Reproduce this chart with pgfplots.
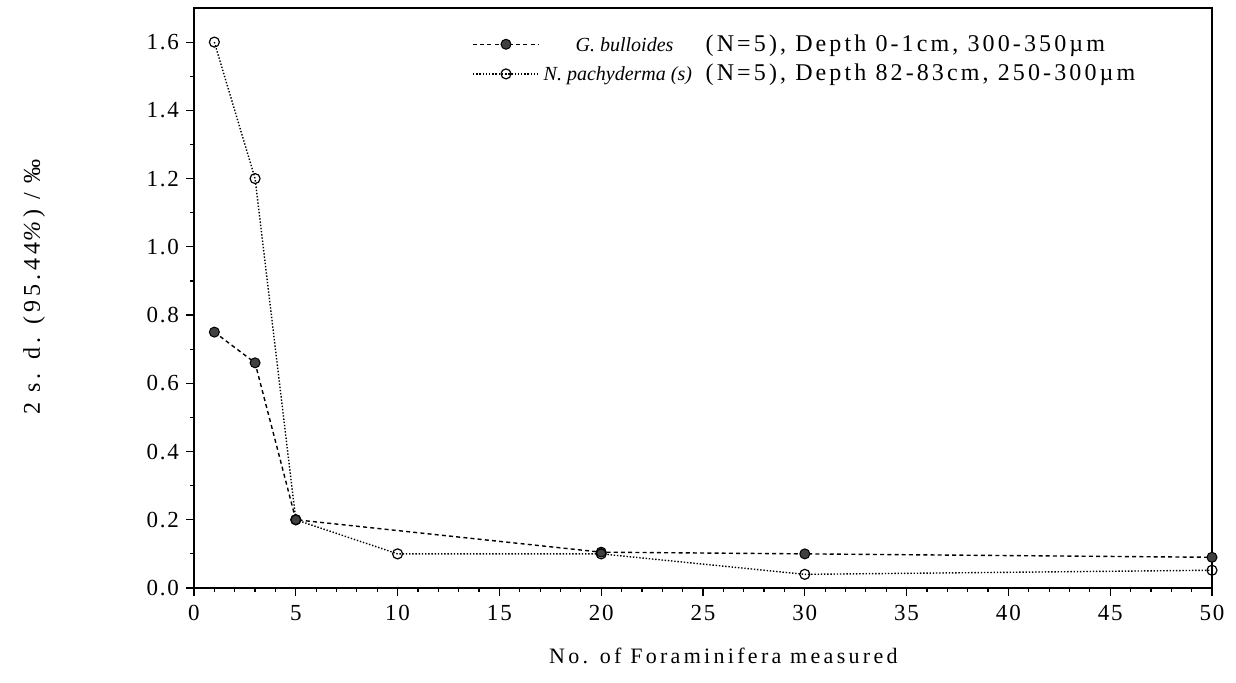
\documentclass[border=0pt]{standalone}
\usepackage{fontspec}
\setmainfont{Liberation Serif}
\usepackage{pgfplots}
\usepackage{pgfplotstable}
\pgfplotsset{compat=1.18}

% 2 s.d. of repeated measurements vs. number of specimens
\pgfplotstableread{
n   sd
1   0.75
3   0.66
5   0.20
20  0.105
30  0.100
50  0.090
}\bulloides

\pgfplotstableread{
n   sd
1   1.60
3   1.20
5   0.20
10  0.10
20  0.10
30  0.04
50  0.052
}\pachyderma

\begin{document}
\begin{tikzpicture}
\begin{axis}[
  scale only axis,
  width=509pt, height=290pt,
  xmin=0, xmax=50, ymin=0, ymax=1.7,
  xtick={0,5,...,50},
  ytick={0,0.2,0.4,0.6,0.8,1.0,1.2,1.4,1.6},
  minor x tick num=4, minor y tick num=1,
  tick pos=left, tick align=outside,
  major tick length=4pt, minor tick length=2pt,
  axis line style={line width=0.8pt},
  every tick/.style={black, line width=0.6pt},
  /pgf/number format/assume math mode=true,
  yticklabel style={/pgf/number format/fixed,
    /pgf/number format/fixed zerofill,
    /pgf/number format/precision=1},
  ticklabel style={font=\fontsize{11.5}{13}\selectfont\addfontfeatures{LetterSpace=8}},
  xticklabel style={yshift=-1pt},
  xlabel={No. of Foraminifera measured},
  xlabel style={at={(axis description cs:0.52,-0.117)}, anchor=center,
    font=\fontsize{11}{13}\selectfont\addfontfeatures{LetterSpace=15}},
  ylabel={2 s. d. (95.44\textit{\%}) / ‰},
  ylabel style={at={(axis description cs:-0.157,0.519)}, anchor=center,
    font=\fontsize{12}{14}\selectfont\addfontfeatures{LetterSpace=17}},
  legend image code/.code={
    \draw[mark repeat=2, mark phase=2, #1]
      plot coordinates {(0pt,0pt) (16.5pt,0pt) (33pt,0pt)};
  },
  legend style={at={(axis description cs:0.273,0.962)}, anchor=north west,
    draw=none, fill=none, inner sep=0pt, row sep=1pt,
    nodes={inner sep=2pt, anchor=west},
    font=\fontsize{12}{14}\selectfont},
  legend cell align=left,
]
\addplot[black, line width=0.7pt, dash pattern=on 2pt off 1.6pt,
  mark=*, mark size=2.5pt,
  mark options={solid, fill=black!75, draw=black, line width=0.5pt}]
  table[x=n, y=sd] {\bulloides};
\addlegendentry{\makebox[81pt][l]{\hspace{16pt}\fontsize{10}{12}\selectfont\textit{G. bulloides}}{\addfontfeatures{LetterSpace=13}(N=5), Depth 0-1cm, 300-350µm}}

\addplot[black, line width=0.7pt, dash pattern=on 0.7pt off 0.9pt,
  mark=o, mark size=2.5pt,
  mark options={solid, fill=white, draw=black, line width=0.6pt}]
  table[x=n, y=sd] {\pachyderma};
\addlegendentry{\makebox[81pt][l]{\fontsize{10}{12}\selectfont\textit{N. pachyderma (s)}}{\addfontfeatures{LetterSpace=13}(N=5), Depth 82-83cm, 250-300µm}}
\end{axis}
\path ([shift={(-97pt,-47.5pt)}]current axis.south west)
  rectangle ([shift={(12pt,4pt)}]current axis.north east);
\end{tikzpicture}
\end{document}
